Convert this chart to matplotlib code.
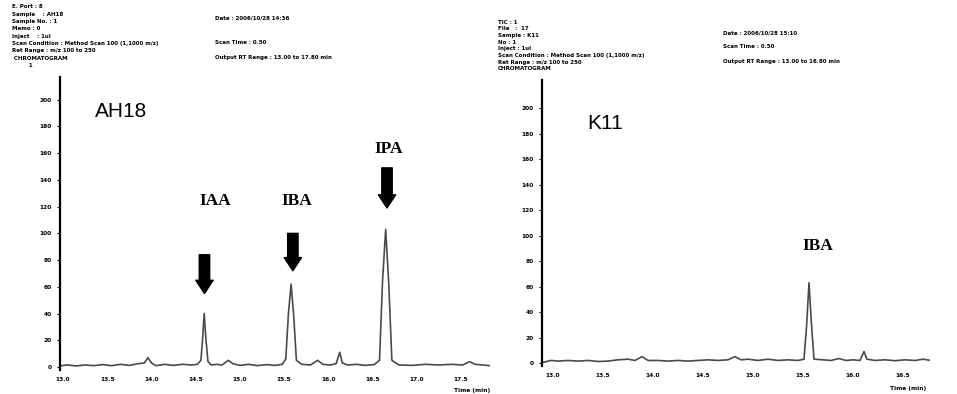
import numpy as np
import matplotlib
matplotlib.use('Agg')
import matplotlib.pyplot as plt

W, H = 957, 394

# ---- data (retention time in min, intensity) ----
left_time = [12.98, 13.05, 13.15, 13.25, 13.35, 13.45, 13.55, 13.65, 13.75, 13.85,
             13.92, 13.96, 14.00, 14.05, 14.15, 14.25, 14.35, 14.45, 14.52, 14.56,
             14.58, 14.597, 14.615, 14.64, 14.68, 14.74, 14.80, 14.87, 14.92, 15.00,
             15.10, 15.20, 15.30, 15.40, 15.48, 15.52, 15.55, 15.58, 15.61, 15.64,
             15.70, 15.80, 15.88, 15.94, 16.02, 16.09, 16.13, 16.16, 16.22, 16.32,
             16.42, 16.52, 16.58, 16.615, 16.65, 16.685, 16.72, 16.80, 16.95, 17.10,
             17.25, 17.40, 17.52, 17.60, 17.66, 17.75, 17.82]
left_signal = [1, 1.5, 0.8, 1.5, 1, 1.8, 1, 2, 1.2, 2.5,
               3, 7, 3, 1, 2, 1.2, 2, 1.5, 2, 5,
               22, 40, 22, 4, 1.5, 2, 1.5, 5, 2.5, 1.2,
               2, 1, 1.8, 1.2, 2, 6, 40, 62, 38, 5,
               2, 1.5, 5, 2, 1.5, 2.5, 11, 3, 1.5, 2,
               1.2, 1.8, 5, 65, 103, 62, 5, 1.5, 1.2, 2,
               1.5, 2, 1.5, 4, 2, 1.5, 1]

right_time = [12.90, 12.98, 13.05, 13.15, 13.25, 13.35, 13.45, 13.55, 13.65, 13.75,
              13.82, 13.89, 13.95, 14.05, 14.15, 14.25, 14.35, 14.45, 14.55, 14.65,
              14.75, 14.82, 14.88, 14.95, 15.05, 15.15, 15.25, 15.35, 15.45, 15.51,
              15.535, 15.56, 15.585, 15.61, 15.70, 15.78, 15.86, 15.93, 16.00, 16.07,
              16.11, 16.14, 16.22, 16.32, 16.42, 16.52, 16.62, 16.70, 16.78, 16.85]
right_signal = [0.5, 2, 1.5, 2, 1.5, 2, 1.2, 1.5, 2.5, 3,
                2, 5, 2, 2, 1.5, 2, 1.5, 2, 2.5, 2,
                2.5, 5, 2.5, 3, 2, 3, 2, 2.5, 2, 3,
                28, 63, 30, 3, 2.5, 2, 3.5, 2, 2.5, 2,
                9, 3, 2, 2.5, 1.8, 2.5, 2, 3, 2, 1.5]

left_xticks = [13.0, 13.5, 14.0, 14.5, 15.0, 15.5, 16.0, 16.5, 17.0, 17.5]
right_xticks = [13.0, 13.5, 14.0, 14.5, 15.0, 15.5, 16.0, 16.5]
yticks = [0, 20, 40, 60, 80, 100, 120, 140, 160, 180, 200]

left_header = ["E. Port : 8", "Sample    : AH18", "Sample No. : 1", "Memo : 0",
               "Inject    : 1ul", "Scan Condition : Method Scan 100 (1,1000 m/z)",
               "Ret Range : m/z 100 to 250", " CHROMATOGRAM", "         1"]
left_header2 = ["Date : 2006/10/28 14:36", "", "", "Scan Time : 0.50", "",
                "Output RT Range : 13.00 to 17.80 min"]
right_header = ["TIC : 1", "File   :  17", "Sample : K11", "No : 1", "Inject : 1ul",
                "Scan Condition : Method Scan 100 (1,1000 m/z)",
                "Ret Range : m/z 100 to 250", "CHROMATOGRAM"]
right_header2 = ["Date : 2006/10/28 15:10", "", "Scan Time : 0.50", "",
                 "Output RT Range : 13.00 to 16.80 min"]


def px_axes(fig, x0, x1, top, bottom):
    return fig.add_axes([x0 / W, 1 - bottom / H, (x1 - x0) / W, (bottom - top) / H])


def style(ax, xticks):
    for s in ['top', 'right', 'bottom']:
        ax.spines[s].set_visible(False)
    ax.spines['left'].set_linewidth(1.6)
    ax.spines['left'].set_color('black')
    ax.set_yticks(yticks)
    ax.set_yticklabels([str(v) for v in yticks])
    ax.set_xticks(xticks)
    ax.set_xticklabels(['%.1f' % v for v in xticks])
    ax.tick_params(axis='y', length=2, width=0.8, pad=4, labelsize=4.2)
    ax.tick_params(axis='x', length=0, pad=5, labelsize=4.2)
    for lab in ax.get_xticklabels() + ax.get_yticklabels():
        lab.set_fontweight('bold')


def arrow(ax, t, tail, tip):
    ax.annotate('', xy=(t, tip), xytext=(t, tail),
                arrowprops=dict(arrowstyle='simple,head_length=0.95,head_width=1.25,tail_width=0.75',
                                fc='black', ec='black', mutation_scale=10, shrinkA=0, shrinkB=0))


fig = plt.figure(figsize=(W / 100, H / 100), dpi=100)

# left panel: AH18
ax1 = px_axes(fig, 60, 490, 77, 370)
ax1.plot(left_time, left_signal, color='#4a4a4a', lw=1.2)
ax1.set_xlim(12.966, 17.83)
ax1.set_ylim(-2.25, 217)
style(ax1, left_xticks)
ax1.text(13.66, 191, 'AH18', fontsize=15, family='Liberation Sans', ha='center', va='center')
lab = dict(fontsize=12.5, family='Liberation Serif', fontweight='bold', ha='center', va='center')
ax1.text(14.72, 124, 'IAA', **lab)
ax1.text(15.65, 124, 'IBA', **lab)
ax1.text(16.68, 163, 'IPA', **lab)
arrow(ax1, 14.60, 84, 55)
arrow(ax1, 15.60, 100, 72)
arrow(ax1, 16.665, 149, 119)
ax1.text(1.0, -0.06, 'Time (min)', transform=ax1.transAxes, fontsize=4.2,
         fontweight='bold', ha='right', va='top')

# right panel: K11
ax2 = px_axes(fig, 542, 930, 80, 366)
ax2.plot(right_time, right_signal, color='#4a4a4a', lw=1.2)
ax2.set_xlim(12.89, 16.77)
ax2.set_ylim(-2.35, 222)
style(ax2, right_xticks)
ax2.text(13.52, 188, 'K11', fontsize=15, family='Liberation Sans', ha='center', va='center')
ax2.text(15.65, 92, 'IBA', **lab)
ax2.text(0.99, -0.07, 'Time (min)', transform=ax2.transAxes, fontsize=4.2,
         fontweight='bold', ha='right', va='top')

# instrument header text
hdr = dict(fontsize=4, fontweight='bold', va='center', ha='left')
for i, s in enumerate(left_header):
    fig.text(12 / W, 1 - (7 + i * 7.3) / H, s, **hdr)
for i, s in enumerate(left_header2):
    fig.text(215 / W, 1 - (18 + i * 8) / H, s, **hdr)
for i, s in enumerate(right_header):
    fig.text(498 / W, 1 - (22 + i * 6.7) / H, s, **hdr)
for i, s in enumerate(right_header2):
    fig.text(723 / W, 1 - (33 + i * 7) / H, s, **hdr)

fig.savefig('out.png', dpi=100)
